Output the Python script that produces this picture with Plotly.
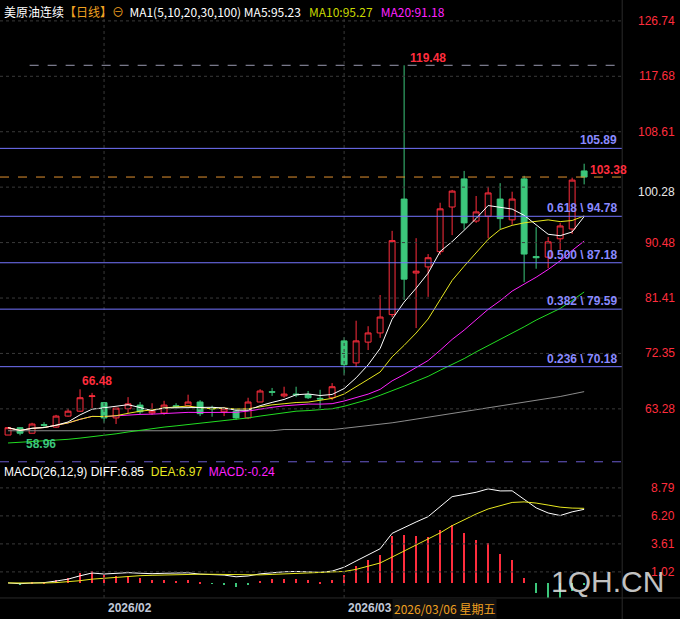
import pandas as pd
import plotly.graph_objects as go
from plotly.subplots import make_subplots

# daily candles, 美原油连续 (2026-01-21 .. 2026-03-27)
opens = [59.0, 60.2, 59.3, 60.7, 60.3, 62.1, 62.9, 65.3, 64.3, 61.8,
         63.3, 63.9, 62.6, 62.6, 63.8, 63.8, 64.4, 63.4, 62.8, 62.9,
         61.8, 64.4, 66.1, 65.4, 65.7, 65.6, 65.0, 65.1, 74.4, 70.8,
         74.2, 75.7, 78.7, 97.6, 85.5, 86.5, 89.0, 96.3, 100.9, 94.0,
         94.8, 97.6, 94.2, 100.9, 88.2, 88.1, 91.1, 92.7, 102.2]
highs = [60.3, 60.3, 61.0, 61.1, 62.3, 63.3, 66.48, 65.9, 64.4, 63.4,
         65.2, 64.4, 64.2, 64.6, 64.2, 65.6, 64.7, 63.8, 63.6, 63.4,
         65.1, 66.5, 66.7, 66.9, 66.9, 66.2, 66.4, 67.5, 75.0, 77.7,
         76.8, 81.9, 92.4, 119.48, 91.2, 88.6, 97.0, 99.1, 102.2, 98.1,
         99.6, 100.2, 98.8, 101.4, 93.0, 91.4, 93.7, 101.1, 103.38]
lows = [59.0, 58.96, 59.3, 60.2, 60.2, 62.0, 62.8, 63.4, 61.0, 60.8,
        62.6, 62.4, 62.3, 62.3, 63.3, 63.8, 62.1, 62.0, 62.1, 61.5,
        61.6, 64.4, 65.4, 65.1, 65.2, 64.9, 63.4, 64.7, 68.8, 70.1,
        72.9, 74.9, 78.3, 81.1, 76.5, 81.6, 88.5, 91.7, 92.6, 93.7,
        91.2, 92.7, 93.4, 84.0, 86.2, 86.3, 89.3, 91.9, 100.0]
closes = [60.2, 59.3, 60.8, 60.6, 62.1, 62.9, 65.1, 65.4, 61.8, 63.4,
          64.1, 62.8, 62.9, 63.9, 63.6, 64.4, 62.5, 63.3, 63.3, 61.8,
          64.4, 66.2, 66.0, 65.7, 65.6, 65.1, 64.9, 66.9, 70.5, 74.4,
          75.7, 78.3, 90.8, 84.5, 85.8, 88.0, 96.0, 98.9, 93.7, 95.5,
          98.6, 94.4, 97.6, 88.6, 88.0, 90.6, 93.2, 100.7, 101.2]
# longer averages need history before the window
ma30 = [57.7, 57.8, 58.0, 58.1, 58.2, 58.3, 58.5, 58.7, 58.9, 59.2,
        59.5, 59.8, 60.0, 60.3, 60.5, 60.7, 61.0, 61.2, 61.4, 61.5,
        61.8, 62.1, 62.4, 62.7, 62.9, 63.0, 63.1, 63.3, 63.7, 64.2,
        64.8, 65.5, 66.2, 67.0, 67.8, 68.6, 69.6, 70.5, 71.5, 72.6,
        73.6, 74.6, 75.7, 76.7, 77.8, 78.7, 79.7, 81.0, 82.4]
ma100 = [59.7] * 23 + [59.9] * 5 + [60.1, 60.3, 60.5, 60.7, 61.0, 61.3, 61.6,
         61.9, 62.2, 62.5, 62.8, 63.1, 63.4, 63.7, 64.0, 64.3, 64.6, 64.9,
         65.3, 65.7, 66.1]

fib_levels = [94.78, 87.18, 79.59, 70.18]
fib_names = ["0.618", "0.500", "0.382", "0.236"]
top_line = 105.89
price_ticks = [126.74, 117.68, 108.61, 90.48, 81.41, 72.35, 63.28]
macd_ticks = [8.79, 6.20, 3.61, 1.02]
month_idx = [8, 28]
month_lbl = ["2026/02", "2026/03"]

RED = "#ff2d3d"
GRN = "#3cc77b"
FIB = "#7474ff"

x = list(range(len(closes)))
c = pd.Series(closes)
ma5 = c.rolling(5, min_periods=1).mean()
ma10 = c.rolling(10, min_periods=1).mean()
ma20 = c.rolling(20, min_periods=1).mean()
ema12 = c.ewm(span=12, adjust=False).mean()
ema26 = c.ewm(span=26, adjust=False).mean()
diff = ema12 - ema26
dea = diff.ewm(span=9, adjust=False).mean()
hist = 2 * (diff - dea)

fig = make_subplots(rows=2, cols=1, shared_xaxes=True)
fig.add_trace(go.Candlestick(
    x=x, open=opens, high=highs, low=lows, close=closes,
    increasing=dict(line=dict(color=RED, width=1), fillcolor="#050505"),
    decreasing=dict(line=dict(color=GRN, width=1), fillcolor=GRN),
    whiskerwidth=0, showlegend=False), row=1, col=1)
for ys, col in [(ma100, "#8c8c8c"), (ma30, "#22dd22"), (ma20, "#ff22ff"),
                (ma10, "#e8e820"), (ma5, "#ffffff")]:
    fig.add_trace(go.Scatter(x=x, y=ys, mode="lines", line=dict(color=col, width=1),
                             showlegend=False, hoverinfo="skip"), row=1, col=1)

fig.add_trace(go.Bar(x=x, y=hist, width=0.09, marker_line_width=0,
                     marker_color=[RED if v >= 0 else GRN for v in hist],
                     showlegend=False), row=2, col=1)
fig.add_trace(go.Scatter(x=x, y=diff, mode="lines", line=dict(color="#ffffff", width=1),
                         showlegend=False), row=2, col=1)
fig.add_trace(go.Scatter(x=x, y=dea, mode="lines", line=dict(color="#e8e820", width=1),
                         showlegend=False), row=2, col=1)

xr = [-0.67, 51.17]
ax = dict(range=xr, showgrid=False, zeroline=False, showticklabels=False, domain=[0, 0.915])
fig.update_xaxes(**ax)
fig.update_yaxes(showgrid=False, zeroline=False, showticklabels=False)
fig.update_layout(
    width=680, height=619, margin=dict(l=0, r=0, t=0, b=0),
    paper_bgcolor="#000000", plot_bgcolor="#000000",
    xaxis_rangeslider_visible=False, bargap=0,
    yaxis=dict(domain=[0.257, 0.984], range=[54.93, 128.54]),
    yaxis2=dict(domain=[0.034, 0.249], range=[-1.39, 10.92]),
    font=dict(family="Arial, Liberation Sans", size=12),
)

shapes = []
# dotted grid
for t in price_ticks + [99.55]:
    shapes.append(dict(type="line", xref="x", yref="y", x0=xr[0], x1=xr[1], y0=t, y1=t,
                       line=dict(color="#3a3a3a", width=1, dash="dot")))
for t in macd_ticks:
    shapes.append(dict(type="line", xref="x2", yref="y2", x0=xr[0], x1=xr[1], y0=t, y1=t,
                       line=dict(color="#3a3a3a", width=1, dash="dot")))
for i in month_idx:
    shapes.append(dict(type="line", xref="x", yref="paper", x0=i, x1=i, y0=0.034, y1=0.984,
                       line=dict(color="#3a3a3a", width=1, dash="dot")))
for lv in fib_levels + [top_line]:
    shapes.append(dict(type="line", xref="x", yref="y", x0=xr[0], x1=xr[1], y0=lv, y1=lv,
                       line=dict(color=FIB, width=1)))
shapes.append(dict(type="line", xref="x", yref="y", x0=1.8, x1=xr[1], y0=max(highs), y1=max(highs),
                   line=dict(color="#9a9ab0", width=1, dash="dash")))
shapes.append(dict(type="line", xref="x", yref="y", x0=xr[0], x1=xr[1], y0=closes[-1], y1=closes[-1],
                   line=dict(color="#e09030", width=1, dash="dash")))
shapes.append(dict(type="line", xref="paper", yref="paper", x0=0, x1=0.915, y0=0.254, y1=0.254,
                   line=dict(color="#6a5acd", width=1, dash="dash")))
shapes.append(dict(type="line", xref="paper", yref="paper", x0=0.915, x1=0.915, y0=0, y1=1,
                   line=dict(color="#2a2a2a", width=1)))
shapes.append(dict(type="line", xref="paper", yref="paper", x0=0, x1=1, y0=0.034, y1=0.034,
                   line=dict(color="#2a2a2a", width=1)))
fig.update_layout(shapes=shapes)

ann = []
for t in price_ticks:
    ann.append(dict(xref="paper", yref="y", x=0.995, y=t, text=str(t), showarrow=False,
                    xanchor="right", font=dict(color=RED, size=12)))
ann.append(dict(xref="paper", yref="y", x=0.995, y=closes[-1], yshift=-15, text="100.28",
                showarrow=False, xanchor="right", font=dict(color="#e8e8e8", size=12)))
for t in macd_ticks:
    ann.append(dict(xref="paper", yref="y2", x=0.995, y=t, text=f"{t:.2f}", showarrow=False,
                    xanchor="right", font=dict(color=RED, size=12)))
for nm, lv in zip(fib_names, fib_levels):
    ann.append(dict(xref="paper", yref="y", x=0.91, y=lv, yshift=8, text=f"<b>{nm} \\ {lv:.2f}</b>",
                    showarrow=False, xanchor="right", font=dict(color="#8a8aff", size=12)))
ann.append(dict(xref="paper", yref="y", x=0.91, y=top_line, yshift=8, text=f"<b>{top_line}</b>",
                showarrow=False, xanchor="right", font=dict(color="#8a8aff", size=12)))
hi_i = highs.index(max(highs))
ann.append(dict(xref="x", yref="y", x=hi_i, y=max(highs), xshift=4, yshift=7, text=f"<b>{max(highs)}</b>",
                showarrow=False, xanchor="left", font=dict(color=RED, size=12)))
ann.append(dict(xref="x", yref="y", x=len(highs) - 1, y=highs[-1], xshift=4, yshift=-6, text=f"<b>{highs[-1]}</b>",
                showarrow=False, xanchor="left", font=dict(color=RED, size=12)))
ann.append(dict(xref="x", yref="y", x=6, y=66.48, xshift=0, yshift=8, text="<b>66.48</b>",
                showarrow=False, xanchor="left", font=dict(color=RED, size=12)))
ann.append(dict(xref="x", yref="y", x=1, y=58.96, xshift=4, yshift=-9, text="<b>58.96</b>",
                showarrow=False, xanchor="left", font=dict(color=GRN, size=12)))
# headers
ann.append(dict(xref="paper", yref="paper", x=0.003, y=0.998, xanchor="left", yanchor="top", showarrow=False,
                text="<span style='color:#ffffff'>美原油连续</span><span style='color:#f0a020'>【日线】⊖</span>"
                     "  <span style='color:#ffffff'>MA1(5,10,20,30,100) MA5:95.23</span>"
                     "   <span style='color:#c8d800'>MA10:95.27</span>"
                     "   <span style='color:#ff22ff'>MA20:91.18</span>",
                font=dict(size=12, family="Noto Sans CJK SC")))
ann.append(dict(xref="paper", yref="paper", x=0.003, y=0.238, xanchor="left", yanchor="middle", showarrow=False,
                text="<span style='color:#ffffff'>MACD(26,12,9) DIFF:6.85</span>"
                     "  <span style='color:#e8e820'>DEA:6.97</span>"
                     "  <span style='color:#ff22ff'>MACD:-0.24</span>",
                font=dict(size=12)))
for i, lbl in zip(month_idx, month_lbl):
    ann.append(dict(xref="x", yref="paper", x=i, y=0.017, xanchor="left", yanchor="middle", showarrow=False,
                    xshift=2, text=f"<b>{lbl}</b>", font=dict(color="#c0c8d8", size=12)))
ann.append(dict(xref="x", yref="paper", x=month_idx[1], y=0.017, xanchor="left", yanchor="middle",
                showarrow=False, xshift=48, text="2026/03/06 星期五", bgcolor="#111111",
                font=dict(color="#f0a020", size=12, family="Noto Sans CJK SC")))
ann.append(dict(xref="paper", yref="paper", x=0.98, y=0.06, xanchor="right", yanchor="middle", showarrow=False,
                text="1QH.CN", font=dict(color="rgba(230,230,230,0.85)", size=30, family="Liberation Sans")))
fig.update_layout(annotations=ann)

fig.write_html("out.html", config={"displayModeBar": False},
               post_script="document.body.style.margin='0';document.body.style.overflow='hidden';")
